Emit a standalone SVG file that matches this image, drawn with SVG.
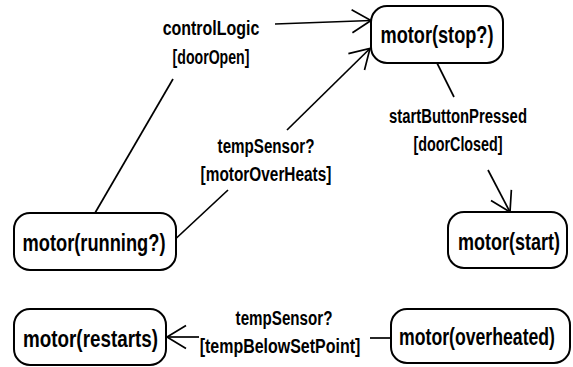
<svg xmlns="http://www.w3.org/2000/svg" width="573" height="367" viewBox="0 0 573 367">
<defs>
<style>
.node rect{fill:#fff;stroke:#000;stroke-width:2}
.node text{font-family:"Liberation Sans",Arial,sans-serif;font-weight:bold;font-size:24px;fill:#000;text-anchor:middle}
.lbl{font-family:"Liberation Sans",Arial,sans-serif;font-weight:bold;font-size:21px;fill:#000;text-anchor:middle}
.edge{fill:none;stroke:#000;stroke-width:1.7}
</style>
<marker id="arr" markerUnits="userSpaceOnUse" viewBox="-21 -13 23 26" markerWidth="23" markerHeight="26" refX="0" refY="0" orient="auto">
<path d="M-19,-11.5 L0,0 L-19,11.5" fill="none" stroke="#000" stroke-width="1.7"/>
</marker>
</defs>
<rect width="573" height="367" fill="#fff"/>
<g id="connectors">
<path class="edge" d="M95,213 L173,79"/>
<path class="edge" d="M275,24 L371,20.5" marker-end="url(#arr)"/>
<path class="edge" d="M176.5,238 L228,190"/>
<path class="edge" d="M287,130 L370,48.5" marker-end="url(#arr)"/>
<path class="edge" d="M437,63 L454,97"/>
<path class="edge" d="M488,170 L510,212" marker-end="url(#arr)"/>
<path class="edge" d="M391,338 L370,338"/>
<path class="edge" d="M199,337 L167,337" marker-end="url(#arr)"/>
<text class="lbl" transform="translate(211,35) scale(0.761,1)">controlLogic</text>
<text class="lbl" transform="translate(211,64) scale(0.673,1)">[doorOpen]</text>
<text class="lbl" transform="translate(266,153) scale(0.722,1)">tempSensor?</text>
<text class="lbl" transform="translate(266,181) scale(0.733,1)">[motorOverHeats]</text>
<text class="lbl" transform="translate(458,123) scale(0.708,1)">startButtonPressed</text>
<text class="lbl" transform="translate(458,151) scale(0.683,1)">[doorClosed]</text>
<text class="lbl" transform="translate(284,325) scale(0.722,1)">tempSensor?</text>
<text class="lbl" transform="translate(280,353) scale(0.761,1)">[tempBelowSetPoint]</text>
</g>
<g id="node-stop" class="node">
<rect x="371" y="6" width="132" height="57" rx="16"/>
<text transform="translate(437,43) scale(0.757,1)">motor(stop?)</text>
</g>
<g id="node-running" class="node">
<rect x="14" y="213" width="162" height="57" rx="16"/>
<text transform="translate(94,251) scale(0.761,1)">motor(running?)</text>
</g>
<g id="node-start" class="node">
<rect x="448" y="212" width="119" height="56" rx="16"/>
<text transform="translate(509,250) scale(0.75,1)">motor(start)</text>
</g>
<g id="node-restarts" class="node">
<rect x="14" y="309" width="152" height="56" rx="16"/>
<text transform="translate(90.5,347) scale(0.785,1)">motor(restarts)</text>
</g>
<g id="node-overheated" class="node">
<rect x="391" y="309" width="179" height="54" rx="16"/>
<text transform="translate(477,345) scale(0.736,1)">motor(overheated)</text>
</g>
</svg>
